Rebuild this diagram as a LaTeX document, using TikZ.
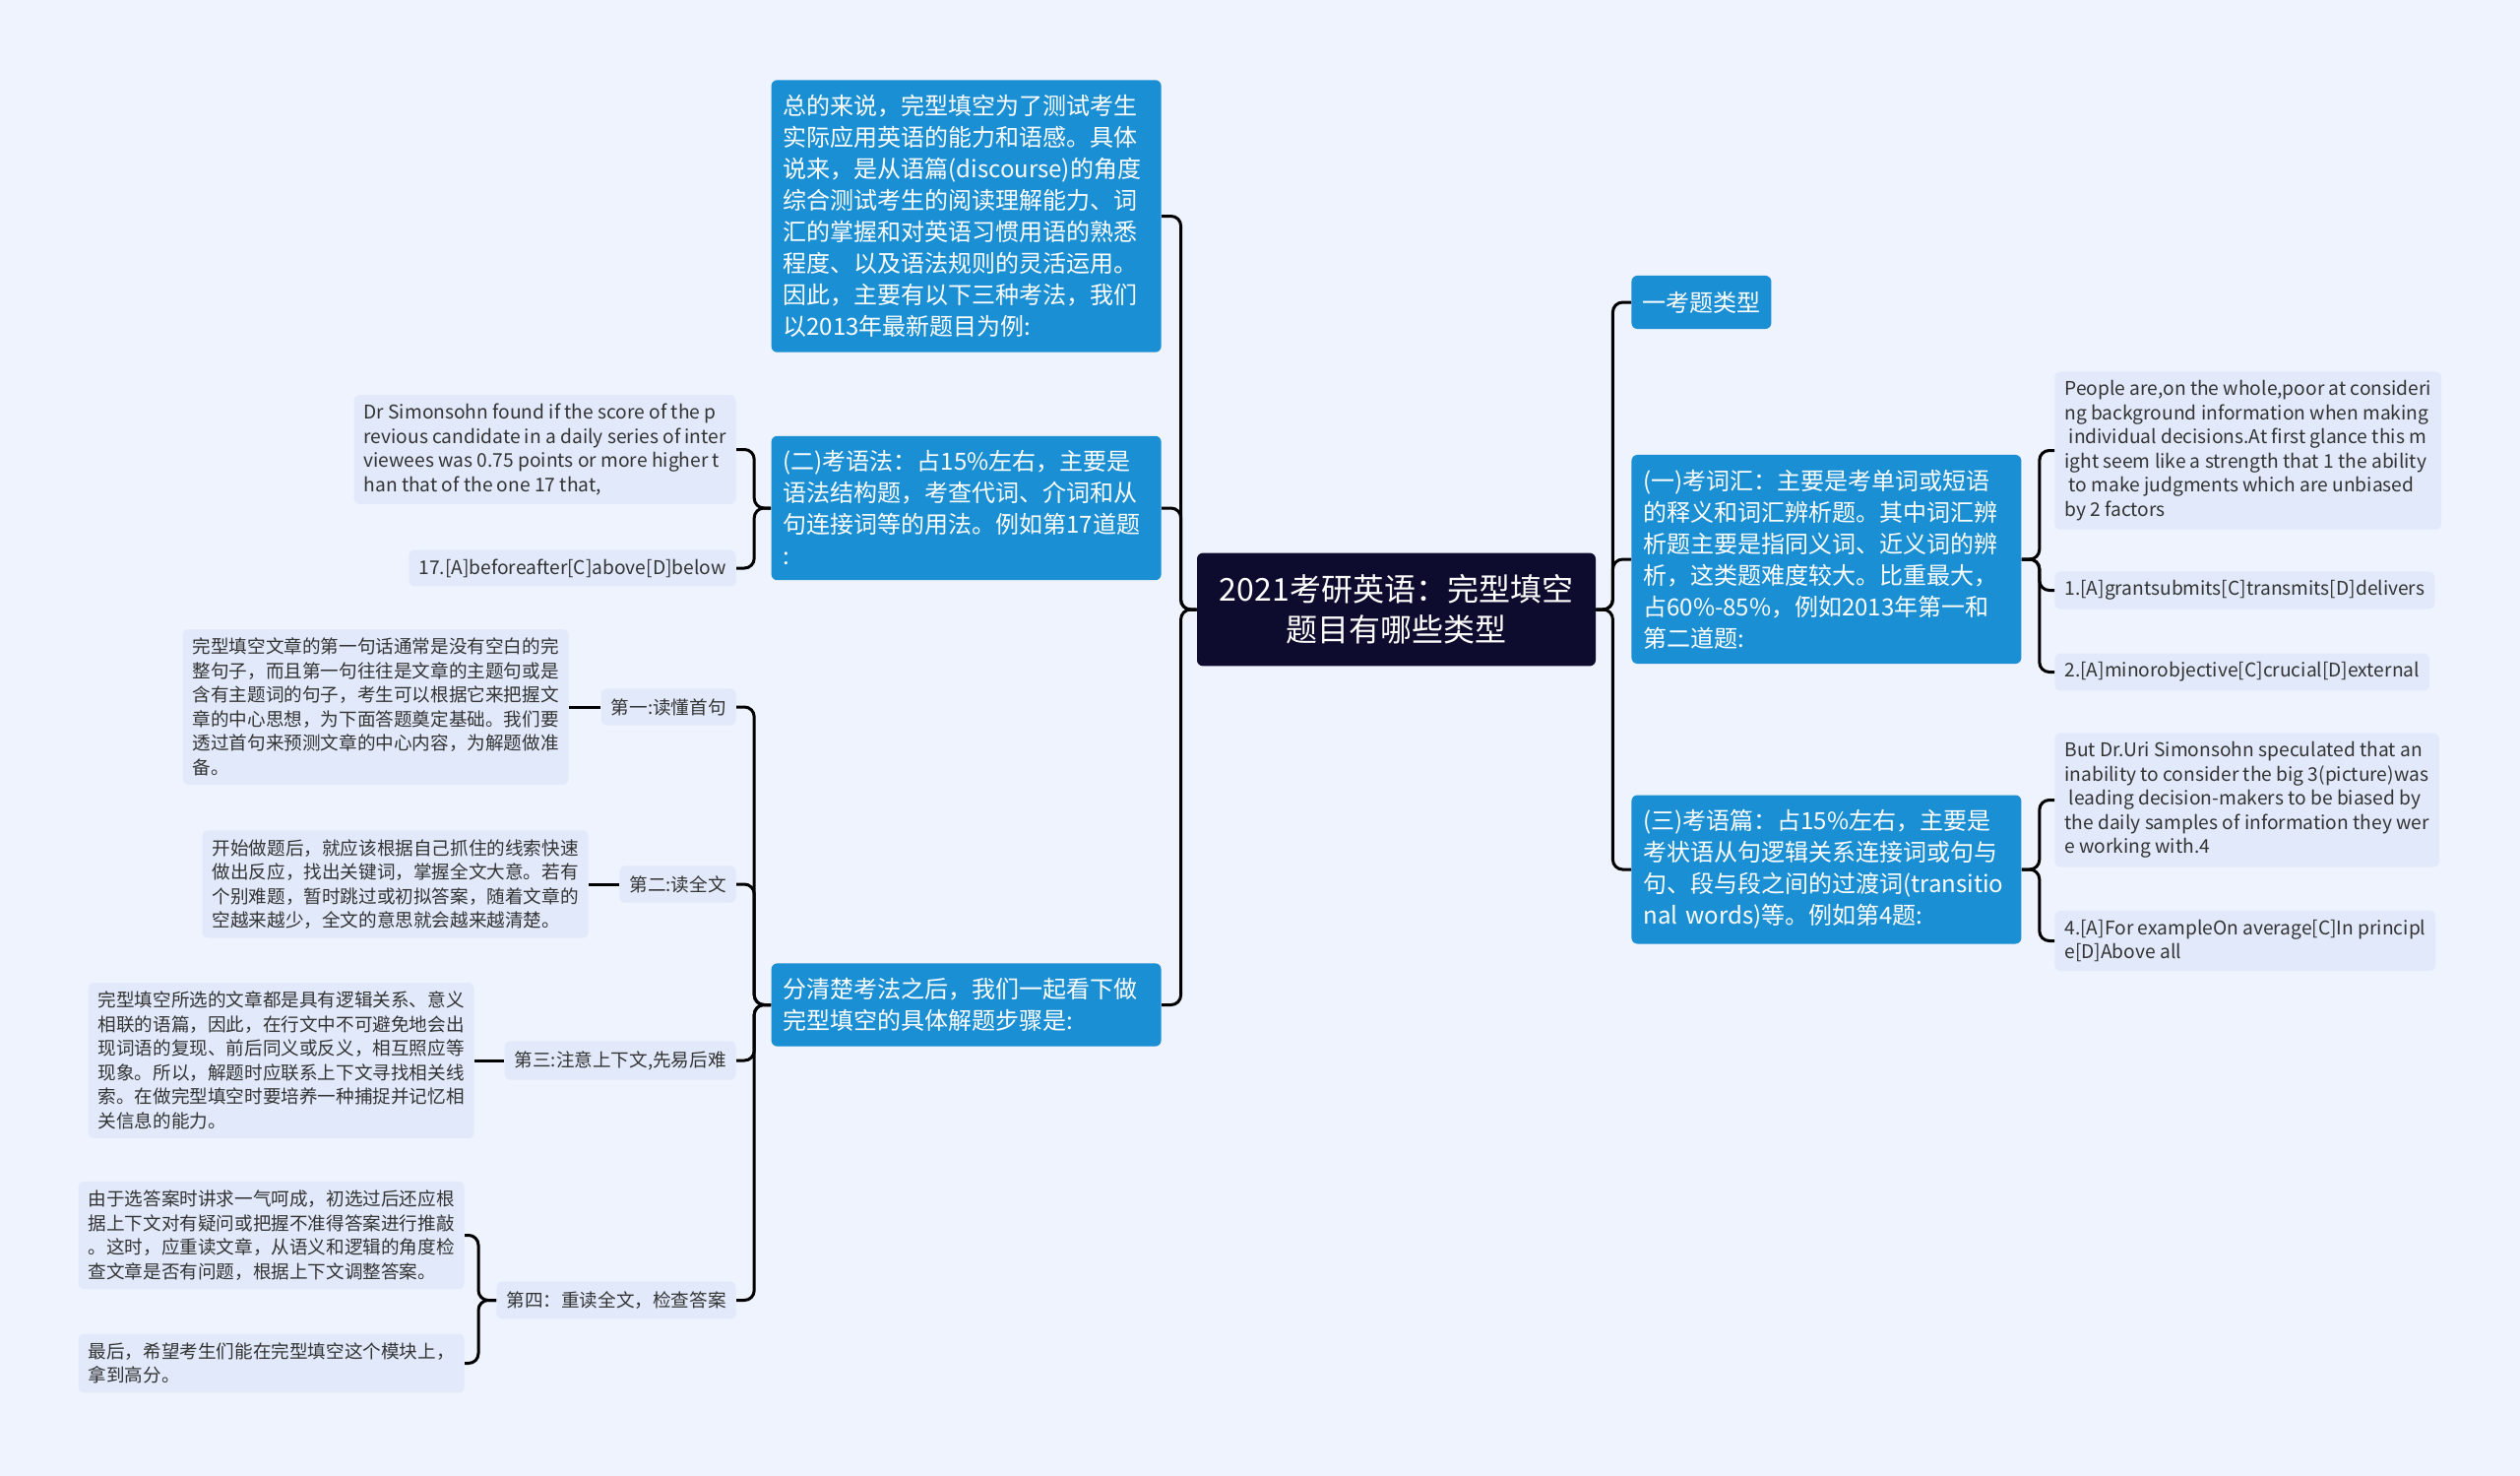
\documentclass[tikz,border=0pt]{standalone}
\usepackage{fontspec}
\setmainfont{Noto Sans CJK SC}
\usetikzlibrary{positioning}

\definecolor{bgcol}{HTML}{EEF3FD}
\definecolor{leafcol}{HTML}{E1E9FA}
\definecolor{topiccol}{HTML}{1B8FD3}
\definecolor{rootcol}{HTML}{0D0B2E}
\definecolor{inkcol}{HTML}{333333}

\begin{document}
\begin{tikzpicture}[x=0.5pt, y=-0.5pt,
  rootbox/.style={fill=rootcol, text=white, rounded corners=3pt, align=center,
    minimum width=202.5pt, inner ysep=11pt, font=\fontsize{16}{20.5}\selectfont},
  topicbox/.style={fill=topiccol, text=white, rounded corners=3pt, align=left,
    text width=186pt, inner xsep=6pt, inner ysep=7.5pt, font=\fontsize{12}{16}\selectfont},
  headbox/.style={fill=topiccol, text=white, rounded corners=3pt,
    inner xsep=5.5pt, inner ysep=8pt, font=\fontsize{12}{16}\selectfont},
  leafbox/.style={fill=leafcol, text=inkcol, rounded corners=3pt, align=left,
    inner xsep=5pt, inner ysep=4.5pt, font=\fontsize{9.3}{12.25}\selectfont},
  engbox/.style={leafbox, font=\fontsize{9.6}{12.25}\selectfont},
  tagbox/.style={fill=leafcol, text=inkcol, rounded corners=3pt,
    inner xsep=5pt, inner ysep=5pt, font=\fontsize{9.3}{12.25}\selectfont},
  link/.style={draw=black, line width=1.5pt, rounded corners=5pt}
]
\fill[bgcol] (0,0) rectangle (2560,1499);

% centre
\node[rootbox] (root) at (1418.5,619) {2021考研英语：完型填空\\题目有哪些类型};

% left branch
\node[topicbox, anchor=east] (sum) at (1180,219.5) {总的来说，完型填空为了测试考生\\实际应用英语的能力和语感。具体\\说来，是从语篇(discourse)的角度\\综合测试考生的阅读理解能力、词\\汇的掌握和对英语习惯用语的熟悉\\程度、以及语法规则的灵活运用。\\因此，主要有以下三种考法，我们\\以2013年最新题目为例:};
\node[topicbox, anchor=east] (gram) at (1180,516) {(二)考语法：占15\%左右，主要是\\语法结构题，考查代词、介词和从\\句连接词等的用法。例如第17道题\\:};
\node[topicbox, anchor=east] (steps) at (1180,1020.5) {分清楚考法之后，我们一起看下做\\完型填空的具体解题步骤是:};

\node[engbox, anchor=east] (gramA) at (748,456.5) {Dr Simonsohn found if the score of the p\\revious candidate in a daily series of inter\\viewees was 0.75 points or more higher t\\han that of the one 17 that,};
\node[engbox, anchor=east] (gramB) at (748,577) {17.[A]beforeafter[C]above[D]below};

\node[tagbox, anchor=east] (stepA) at (748,718) {第一:读懂首句};
\node[tagbox, anchor=east] (stepB) at (748,898) {第二:读全文};
\node[tagbox, anchor=east] (stepC) at (748,1077) {第三:注意上下文,先易后难};
\node[tagbox, anchor=east] (stepD) at (748,1320.5) {第四：重读全文，检查答案};

\node[leafbox, anchor=east] (noteA) at (578,718) {完型填空文章的第一句话通常是没有空白的完\\整句子，而且第一句往往是文章的主题句或是\\含有主题词的句子，考生可以根据它来把握文\\章的中心思想，为下面答题奠定基础。我们要\\透过首句来预测文章的中心内容，为解题做准\\备。};
\node[leafbox, anchor=east] (noteB) at (598,898) {开始做题后，就应该根据自己抓住的线索快速\\做出反应，找出关键词，掌握全文大意。若有\\个别难题，暂时跳过或初拟答案，随着文章的\\空越来越少，全文的意思就会越来越清楚。};
\node[leafbox, anchor=east] (noteC) at (482,1077) {完型填空所选的文章都是具有逻辑关系、意义\\相联的语篇，因此，在行文中不可避免地会出\\现词语的复现、前后同义或反义，相互照应等\\现象。所以，解题时应联系上下文寻找相关线\\索。在做完型填空时要培养一种捕捉并记忆相\\关信息的能力。};
\node[leafbox, anchor=east] (noteD) at (472,1254.5) {由于选答案时讲求一气呵成，初选过后还应根\\据上下文对有疑问或把握不准得答案进行推敲\\。这时，应重读文章，从语义和逻辑的角度检\\查文章是否有问题，根据上下文调整答案。};
\node[leafbox, anchor=east] (noteE) at (472,1384.5) {最后，希望考生们能在完型填空这个模块上，\\拿到高分。};

% right branch
\node[headbox, anchor=west] (kinds) at (1657,307) {一考题类型};
\node[topicbox, anchor=west] (vocab) at (1657,568) {(一)考词汇：主要是考单词或短语\\的释义和词汇辨析题。其中词汇辨\\析题主要是指同义词、近义词的辨\\析，这类题难度较大。比重最大，\\占60\%-85\%，例如2013年第一和\\第二道题:};
\node[topicbox, anchor=west] (text) at (1657,883) {(三)考语篇：占15\%左右，主要是\\考状语从句逻辑关系连接词或句与\\句、段与段之间的过渡词(transitio\\nal words)等。例如第4题:};

\node[engbox, anchor=west] (vocabA) at (2087,457.5) {People are,on the whole,poor at consideri\\ng background information when making\\~individual decisions.At first glance this m\\ight seem like a strength that 1 the ability\\~to make judgments which are unbiased\\by 2 factors};
\node[engbox, anchor=west] (vocabB) at (2087,599.5) {1.[A]grantsubmits[C]transmits[D]delivers};
\node[engbox, anchor=west] (vocabC) at (2087,682.5) {2.[A]minorobjective[C]crucial[D]external};
\node[engbox, anchor=west] (textA) at (2087,812.5) {But Dr.Uri Simonsohn speculated that an\\inability to consider the big 3(picture)was\\~leading decision-makers to be biased by\\the daily samples of information they wer\\e working with.4};
\node[engbox, anchor=west] (textB) at (2087,955.5) {4.[A]For exampleOn average[C]In principl\\e[D]Above all};

% connectors
\foreach \n in {sum,gram,steps}
  \draw[link] (root.west) -- ++(-16,0) |- (\n.east);
\foreach \n in {kinds,vocab,text}
  \draw[link] (root.east) -- ++(17,0) |- (\n.west);
\foreach \n in {gramA,gramB}
  \draw[link] (gram.west) -- ++(-17,0) |- (\n.east);
\foreach \n in {stepA,stepB,stepC,stepD}
  \draw[link] (steps.west) -- ++(-17,0) |- (\n.east);
\draw[link] (stepA.west) -- (noteA.east);
\draw[link] (stepB.west) -- (noteB.east);
\draw[link] (stepC.west) -- (noteC.east);
\foreach \n in {noteD,noteE}
  \draw[link] (stepD.west) -- ++(-18,0) |- (\n.east);
\foreach \n in {vocabA,vocabB,vocabC}
  \draw[link] (vocab.east) -- ++(18,0) |- (\n.west);
\foreach \n in {textA,textB}
  \draw[link] (text.east) -- ++(18,0) |- (\n.west);
\end{tikzpicture}
\end{document}
